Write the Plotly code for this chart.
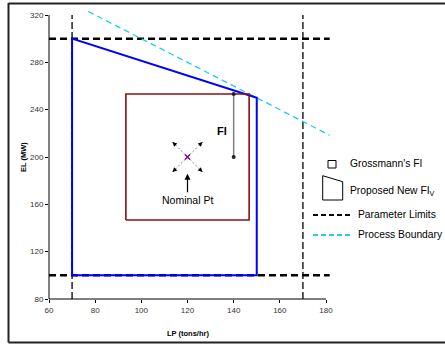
import plotly.graph_objects as go

# ---- data ----
lp_ticks = [60, 80, 100, 120, 140, 160, 180]
el_ticks = [80, 120, 160, 200, 240, 280, 320]

nominal_lp = [120]
nominal_el = [200]

grossmann_lp = [93.3, 146.7, 146.7, 93.3, 93.3]
grossmann_el = [146.7, 146.7, 253.3, 253.3, 146.7]

proposed_lp = [70, 70, 150, 150, 70]
proposed_el = [100, 300, 250, 100, 100]

limit_h_lp = [60, 181.6, None, 60, 181.6]
limit_h_el = [300, 300, None, 100, 100]
limit_v_lp = [70, 70, None, 170, 170]
limit_v_el = [80, 320, None, 80, 320]

boundary_lp = [77, 181.6]
boundary_el = [323, 218.4]

fi_lp = [140, 140]
fi_el = [253.3, 200]

# deviation arrows from nominal point (LP, EL offsets)
dev_dlp = [-6.5, 6.5, -6.5, 6.5]
dev_del = [12.7, 12.7, -12.7, -12.7]

# ---- layout geometry (pixels) ----
W, H = 445, 345
ML, MR, MT, MB = 49, 114, 11, 46
PW, PH = W - ML - MR, H - MT - MB
XPX = 277 / 120.0   # px per LP unit
YPX = 284 / 240.0   # px per EL unit
x_range = [60, 60 + PW / XPX]
y_range = [80, 80 + PH / YPX]


def px(xp):
    return (xp - ML) / PW


def py(yp):
    return (H - MB - yp) / PH


FONT = "Liberation Sans, Arial, sans-serif"
BLUE = "#0000FF"
RED = "#8B1010"
CYAN = "#22CCEE"

fig = go.Figure()

# parameter limits
fig.add_trace(go.Scatter(x=limit_h_lp, y=limit_h_el, mode="lines",
                         line=dict(color="black", width=2.5, dash="7px,4px"),
                         hoverinfo="skip", showlegend=False))
fig.add_trace(go.Scatter(x=limit_v_lp, y=limit_v_el, mode="lines",
                         line=dict(color="black", width=1.3, dash="7px,3px"),
                         hoverinfo="skip", showlegend=False))
# process boundary
fig.add_trace(go.Scatter(x=boundary_lp, y=boundary_el, mode="lines",
                         line=dict(color=CYAN, width=1.3, dash="6px,4px"),
                         hoverinfo="skip", showlegend=False))
# proposed FI_V polygon
fig.add_trace(go.Scatter(x=proposed_lp, y=proposed_el, mode="lines",
                         line=dict(color=BLUE, width=2),
                         hoverinfo="skip", showlegend=False))
# Grossmann FI rectangle
fig.add_trace(go.Scatter(x=grossmann_lp, y=grossmann_el, mode="lines",
                         line=dict(color=RED, width=1.6),
                         hoverinfo="skip", showlegend=False))
# FI segment
fig.add_trace(go.Scatter(x=fi_lp, y=fi_el, mode="lines+markers",
                         line=dict(color="#808080", width=1.5),
                         marker=dict(color="#222222", size=4),
                         hoverinfo="skip", showlegend=False))
# deviation dashed lines
dxs, dys = [], []
for a, b in zip(dev_dlp, dev_del):
    dxs += [nominal_lp[0] + a * 0.15, nominal_lp[0] + a, None]
    dys += [nominal_el[0] + b * 0.15, nominal_el[0] + b, None]
fig.add_trace(go.Scatter(x=dxs, y=dys, mode="lines",
                         line=dict(color="#888888", width=1, dash="2px,2px"),
                         hoverinfo="skip", showlegend=False))
# nominal point
fig.add_trace(go.Scatter(x=nominal_lp, y=nominal_el, mode="markers",
                         marker=dict(color="#800080", size=5, symbol="x-thin",
                                     line=dict(color="#800080", width=1.5)),
                         hoverinfo="skip", showlegend=False))

annotations = []
# arrowheads on deviation lines
for a, b in zip(dev_dlp, dev_del):
    annotations.append(dict(x=nominal_lp[0] + a, y=nominal_el[0] + b, xref="x", yref="y",
                            ax=-4 if a > 0 else 4, ay=4 if b > 0 else -4,
                            text="", showarrow=True, arrowhead=2, arrowsize=0.9,
                            arrowwidth=1, arrowcolor="black", standoff=0))
# Nominal Pt label
annotations.append(dict(x=120, y=185.8, xref="x", yref="y", ax=0, ay=26,
                        text="Nominal Pt", showarrow=True, arrowhead=2, arrowsize=1,
                        arrowwidth=1.2, arrowcolor="black", standoff=0,
                        font=dict(family=FONT, size=10.5, color="black")))
# FI label
annotations.append(dict(x=px(229), y=py(131), xref="paper", yref="paper",
                        text="<b>FI</b>", showarrow=False, xanchor="right", yanchor="middle",
                        font=dict(family=FONT, size=11, color="black")))
# axis titles
annotations.append(dict(x=px(188), y=py(333), xref="paper", yref="paper",
                        text="<b>LP (tons/hr)</b>", showarrow=False,
                        xanchor="center", yanchor="middle",
                        font=dict(family=FONT, size=7.5, color="black")))
annotations.append(dict(x=px(23), y=py(157), xref="paper", yref="paper",
                        text="<b>EL (MW)</b>", showarrow=False, textangle=-90,
                        xanchor="center", yanchor="middle",
                        font=dict(family=FONT, size=7.5, color="black")))
# legend texts
leg_font = dict(family=FONT, size=10.3, color="black")
annotations.append(dict(x=px(348), y=py(163), xref="paper", yref="paper",
                        text="Grossmann's FI", showarrow=False,
                        xanchor="left", yanchor="middle", font=leg_font))
annotations.append(dict(x=px(348), y=py(191), xref="paper", yref="paper",
                        text="Proposed New FI<sub>V</sub>", showarrow=False,
                        xanchor="left", yanchor="middle", font=leg_font))
annotations.append(dict(x=px(356), y=py(214), xref="paper", yref="paper",
                        text="Parameter Limits", showarrow=False,
                        xanchor="left", yanchor="middle", font=leg_font))
annotations.append(dict(x=px(356), y=py(234), xref="paper", yref="paper",
                        text="Process Boundary", showarrow=False,
                        xanchor="left", yanchor="middle", font=leg_font))

frame = dict(color="#222222", width=2)
shapes = [
    # axis lines
    dict(type="line", xref="x", yref="paper", x0=60, x1=180, y0=0, y1=0,
         line=dict(color="black", width=1)),
    dict(type="line", xref="paper", yref="y", x0=0, x1=0, y0=80, y1=320,
         line=dict(color="black", width=1)),
    # outer frame (left, top, bottom)
    dict(type="line", xref="paper", yref="paper", x0=px(8.5), x1=px(8.5),
         y0=py(342.5), y1=py(3), line=frame),
    dict(type="line", xref="paper", yref="paper", x0=px(8.5), x1=px(445),
         y0=py(3.5), y1=py(3.5), line=frame),
    dict(type="line", xref="paper", yref="paper", x0=px(8.5), x1=px(445),
         y0=py(342.5), y1=py(342.5), line=frame),
    # legend icons
    dict(type="rect", xref="paper", yref="paper", x0=px(328), x1=px(336),
         y0=py(168), y1=py(160.5), line=dict(color="black", width=1)),
    dict(type="path", xref="paper", yref="paper",
         path=f"M {px(322.7)},{py(175.7)} L {px(342.7)},{py(181.7)} L {px(342.7)},{py(200)} L {px(322.7)},{py(200)} Z",
         line=dict(color="black", width=1)),
    dict(type="line", xref="paper", yref="paper", x0=px(313), x1=px(353),
         y0=py(215), y1=py(215), line=dict(color="black", width=2, dash="5px,3px")),
    dict(type="line", xref="paper", yref="paper", x0=px(313), x1=px(353),
         y0=py(235), y1=py(235), line=dict(color="#33CCCC", width=2, dash="5px,3px")),
]

tick_font = dict(family=FONT, size=8, color="#333333")
fig.update_layout(
    width=W, height=H,
    margin=dict(l=ML, r=MR, t=MT, b=MB, pad=0),
    paper_bgcolor="white", plot_bgcolor="white",
    showlegend=False,
    xaxis=dict(range=x_range, tickvals=lp_ticks, ticktext=[str(v) for v in lp_ticks],
               showgrid=False, zeroline=False, showline=False,
               ticks="outside", ticklen=3, tickcolor="black", tickwidth=1,
               tickfont=tick_font),
    yaxis=dict(range=y_range, tickvals=el_ticks, ticktext=[str(v) for v in el_ticks],
               showgrid=False, zeroline=False, showline=False,
               ticks="outside", ticklen=3, tickcolor="black", tickwidth=1,
               tickfont=tick_font),
    annotations=annotations,
    shapes=shapes,
)

fig.write_html("out.html", config={"displayModeBar": False},
               post_script="document.body.style.margin='0';document.body.style.overflow='hidden';")
